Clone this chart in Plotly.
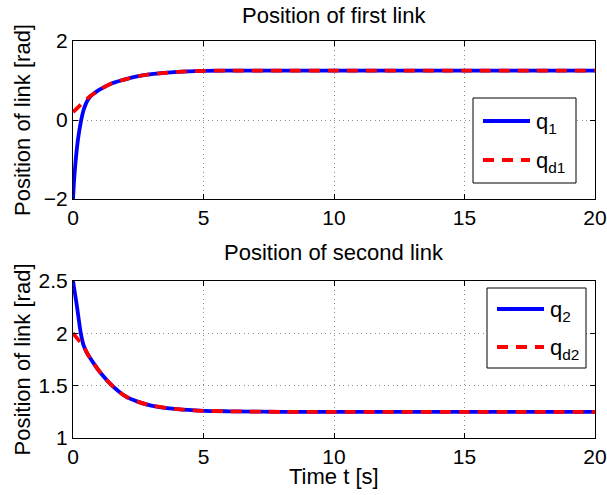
import plotly.graph_objects as go

# ---- data ----
t_q1 = [0, 0.04, 0.08, 0.14, 0.2, 0.3, 0.4, 0.5, 0.6, 0.7, 0.8, 1, 1.5, 2, 2.5, 3, 4, 5, 6, 8, 10, 15, 20]
q1 = [-2.0, -1.55, -1.2, -0.78, -0.45, -0.05, 0.24, 0.42, 0.54, 0.62, 0.67, 0.76, 0.93, 1.03, 1.11, 1.16, 1.22, 1.245, 1.25, 1.25, 1.25, 1.25, 1.25]

t_qd1 = [0, 0.25, 0.5, 0.65, 0.8, 1, 1.5, 2, 2.5, 3, 4, 5, 6, 8, 10, 15, 20]
qd1 = [0.2, 0.36, 0.51, 0.6, 0.67, 0.76, 0.93, 1.03, 1.11, 1.16, 1.22, 1.245, 1.25, 1.25, 1.25, 1.25, 1.25]

t_q2 = [0, 0.05, 0.1, 0.15, 0.2, 0.3, 0.4, 0.5, 0.6, 0.8, 1, 1.5, 2, 2.5, 3, 4, 5, 6, 8, 10, 15, 20]
q2 = [2.5, 2.42, 2.34, 2.26, 2.17, 2.0, 1.89, 1.83, 1.785, 1.71, 1.64, 1.50, 1.40, 1.345, 1.31, 1.275, 1.26, 1.255, 1.25, 1.25, 1.25, 1.25]

t_qd2 = [0, 0.2, 0.4, 0.5, 0.6, 0.8, 1, 1.5, 2, 2.5, 3, 4, 5, 6, 8, 10, 15, 20]
qd2 = [2.0, 1.94, 1.88, 1.83, 1.785, 1.71, 1.64, 1.50, 1.40, 1.345, 1.31, 1.275, 1.26, 1.255, 1.25, 1.25, 1.25, 1.25]

x_ticks = [0, 5, 10, 15, 20]
y1_ticks = [-2, 0, 2]
y2_ticks = [1, 1.5, 2, 2.5]

titles = ["Position of first link", "Position of second link"]
ylabel = "Position of link [rad]"
xlabel = "Time t [s]"
names_top = ["q<sub>1</sub>", "q<sub>d1</sub>"]
names_bot = ["q<sub>2</sub>", "q<sub>d2</sub>"]

FONT = "Liberation Sans, Arial, Helvetica, sans-serif"
FS = 21
FS_T = 22
BLUE = "rgb(0,0,255)"
RED = "rgb(255,0,0)"
DASH = "11px,8px"
LW = 3.8

W, H = 607, 495
ML, MR, MT, MB = 73, 12, 41, 57
PW, PH = W - ML - MR, H - MT - MB


def px(x):
    return (x - ML) / PW


def py(y):
    return 1 - (y - MT) / PH


fig = go.Figure()
fig.add_trace(go.Scatter(x=t_q1, y=q1, mode="lines", name=names_top[0],
                         line=dict(color=BLUE, width=LW, shape="spline", smoothing=0.8),
                         xaxis="x", yaxis="y"))
fig.add_trace(go.Scatter(x=t_qd1, y=qd1, mode="lines", name=names_top[1],
                         line=dict(color=RED, width=LW, dash=DASH, shape="spline", smoothing=0.8),
                         xaxis="x", yaxis="y"))
fig.add_trace(go.Scatter(x=t_q2, y=q2, mode="lines", name=names_bot[0],
                         line=dict(color=BLUE, width=LW, shape="spline", smoothing=0.8),
                         xaxis="x2", yaxis="y2"))
fig.add_trace(go.Scatter(x=t_qd2, y=qd2, mode="lines", name=names_bot[1],
                         line=dict(color=RED, width=LW, dash=DASH, shape="spline", smoothing=0.8),
                         xaxis="x2", yaxis="y2"))

axis_common = dict(
    showline=True, linecolor="black", linewidth=1, mirror="ticks",
    ticks="inside", ticklen=5, tickcolor="black", tickwidth=1,
    showgrid=True, gridcolor="#8c8c8c", griddash="1px,3.5px", gridwidth=1,
    zeroline=False, automargin=False,
    tickfont=dict(family=FONT, size=FS, color="black"),
)

top_dom = [0.602, 1.0]
bot_dom = [0.0, 0.3955]

fig.update_layout(
    width=W, height=H,
    margin=dict(l=ML, r=MR, t=MT, b=MB, autoexpand=False),
    paper_bgcolor="white", plot_bgcolor="white",
    font=dict(family=FONT, size=FS, color="black"),
    xaxis=dict(domain=[0, 1], anchor="y", range=[0, 20], tickvals=x_ticks, **axis_common),
    yaxis=dict(domain=top_dom, anchor="x", range=[-2, 2], tickvals=y1_ticks, **axis_common),
    xaxis2=dict(domain=[0, 1], anchor="y2", range=[0, 20], tickvals=x_ticks, **axis_common),
    yaxis2=dict(domain=bot_dom, anchor="x2", range=[1, 2.5], tickvals=y2_ticks, **axis_common),
    showlegend=False,
)

ann = []
shapes = []
ann.append(dict(text=titles[0], xref="paper", yref="paper", x=0.5, y=top_dom[1],
                xanchor="center", yanchor="bottom", yshift=11, showarrow=False,
                font=dict(family=FONT, size=FS_T, color="black")))
ann.append(dict(text=titles[1], xref="paper", yref="paper", x=0.5, y=bot_dom[1],
                xanchor="center", yanchor="bottom", yshift=14, showarrow=False,
                font=dict(family=FONT, size=FS_T, color="black")))
ann.append(dict(text=xlabel, xref="paper", yref="paper", x=0.5, y=0,
                xanchor="center", yanchor="top", yshift=-24, showarrow=False,
                font=dict(family=FONT, size=FS_T, color="black")))
for dom in (top_dom, bot_dom):
    ann.append(dict(text=ylabel, xref="paper", yref="paper", x=0, y=(dom[0] + dom[1]) / 2,
                    xanchor="center", yanchor="middle", xshift=-51, textangle=-90,
                    showarrow=False, font=dict(family=FONT, size=FS_T, color="black")))


# legend boxes (MATLAB-style), pixel geometry of the reference
def legend_box(x0, x1, y0, y1, rows, names):
    shapes.append(dict(type="rect", xref="paper", yref="paper",
                       x0=px(x0), x1=px(x1), y0=py(y1), y1=py(y0),
                       line=dict(color="black", width=1), fillcolor="white", layer="above"))
    styles = [dict(color=BLUE, width=LW), dict(color=RED, width=LW, dash=DASH)]
    for ry, nm, st in zip(rows, names, styles):
        shapes.append(dict(type="line", xref="paper", yref="paper",
                           x0=px(x0 + 10), x1=px(x0 + 57), y0=py(ry), y1=py(ry),
                           line=st, layer="above"))
        ann.append(dict(text=nm, xref="paper", yref="paper", x=px(x0 + 61), y=py(ry),
                        xanchor="left", yanchor="middle", yshift=-2, showarrow=False,
                        font=dict(family=FONT, size=FS_T, color="black")))


legend_box(473, 576, 98, 183, [121, 160], names_top)
legend_box(487, 586, 288, 368, [309, 347], names_bot)

fig.update_layout(annotations=ann, shapes=shapes)

fig.write_html("out.html", config={"displayModeBar": False},
               post_script="document.body.style.margin='0';")
